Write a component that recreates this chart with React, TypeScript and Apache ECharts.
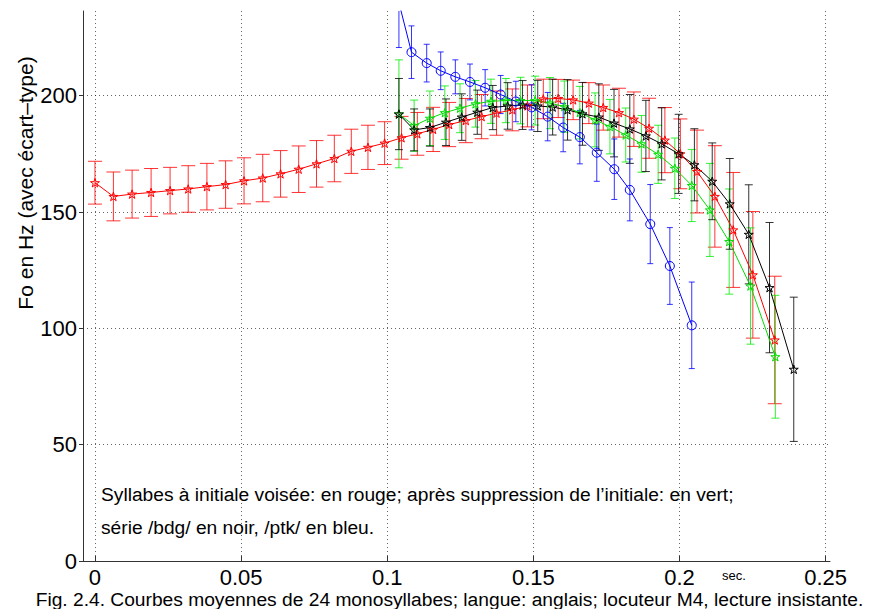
import React, { useEffect, useRef } from "react";
import * as echarts from "echarts";

// ---- axis ticks ----
const xTickValues = [0, 0.05, 0.1, 0.15, 0.2, 0.25];
const yTickValues = [0, 50, 100, 150, 200];

// ---- red: syllabes à initiale voisée ----
const redT = [
  0, 0.0063, 0.0127, 0.0192, 0.0257, 0.0319, 0.0383, 0.0447, 0.051, 0.0574, 0.0635, 0.0697,
  0.0758, 0.0819, 0.0877, 0.0934, 0.0991, 0.1049, 0.1103, 0.1157, 0.1212, 0.1269, 0.1323,
  0.1374, 0.1428, 0.148, 0.1534, 0.1585, 0.1636, 0.169, 0.1739, 0.1793, 0.1844, 0.1896,
  0.195, 0.2003, 0.206, 0.2121, 0.2184, 0.2251, 0.2326,
];
const redV = [
  162.6, 156.7, 157.7, 158.4, 159.2, 159.9, 160.9, 161.8, 163.4, 164.6, 166.4, 168.4, 170.7,
  173, 176.1, 177.8, 179.6, 181.9, 183.6, 185.5, 187.6, 189.3, 191.0, 192.5, 193.9, 195.6,
  198.6, 198.8, 198.2, 196.8, 194.9, 192.7, 189.9, 186.0, 180.9, 175.0, 167.4, 156.7, 142.3,
  123.0, 95.0,
];
const redSD = [
  9.2, 10.5, 10.3, 10.3, 10, 10, 10, 10.2, 9.9, 10.2, 10, 10, 10, 10, 9.5, 9.5, 9.2, 9.2, 9.2,
  9.5, 9.5, 9.5, 9.5, 9.5, 9, 9, 8.5, 8.2, 8.5, 8.8, 9.7, 10.5, 11.7, 12.9, 14, 15, 17.8, 21.8,
  24.7, 27.2, 27.4, 23.3,
];

// ---- green: après suppression de l'initiale ----
const greenT = [
  0.104, 0.1092, 0.1146, 0.1197, 0.1249, 0.1302, 0.1355, 0.1406, 0.1456, 0.1506, 0.1557,
  0.1606, 0.1659, 0.1711, 0.1762, 0.1816, 0.187, 0.1927, 0.1984, 0.2042, 0.2104, 0.217,
  0.2243, 0.2328,
];
const greenV = [
  192.2, 187.1, 190.3, 192.7, 194.6, 196.5, 197.6, 197.9, 197.9, 197.9, 196.8, 195.3, 192.7,
  189.6, 186.7, 183.1, 179.3, 174.8, 168.8, 161.4, 150.9, 137.3, 118.2, 87.8,
];
const greenSD = [
  23.2, 11, 11.7, 11.5, 10.5, 10, 9.5, 9.5, 10, 10.5, 11, 11, 11.3, 11.6, 11.7, 11.6, 12.2,
  12.5, 13, 15.5, 20, 22.6, 25, 26.4,
];

// ---- black: série /bdg/ ----
const blackT = [
  0.104, 0.1092, 0.1146, 0.1201, 0.1255, 0.1308, 0.1361, 0.1412, 0.1463, 0.1515, 0.1566,
  0.1617, 0.1668, 0.1724, 0.1776, 0.183, 0.1885, 0.1939, 0.1997, 0.2051, 0.2112, 0.2172,
  0.2237, 0.2308, 0.2391,
];
const blackV = [
  192.1, 185.3, 186.3, 188.6, 190.8, 192.9, 194.9, 195.6, 196.0, 195.6, 195.1, 193.9, 192.2,
  190.8, 188.2, 185.7, 182.7, 179.3, 175.0, 170.3, 163.2, 153.5, 140.4, 117.5, 82.4,
];
const blackSD = [
  15.3, 9, 8, 10, 10, 9.5, 9.5, 10, 10.5, 11, 12, 13, 13.5, 14.3, 14.5, 14.8, 15.3, 15.5, 17,
  15.5, 16.5, 19.5, 21.3, 28, 31,
];

// ---- blue: série /ptk/ ----
const blueT = [
  0.104, 0.1083, 0.1135, 0.1183, 0.1233, 0.1283, 0.1335, 0.1388, 0.144, 0.1494, 0.1549,
  0.1602, 0.1659, 0.1717, 0.1777, 0.183, 0.19, 0.1967, 0.2042,
];
const blueV = [
  240, 218.7, 214.0, 210.7, 208.1, 205.9, 203.4, 200.5, 197.5, 195.0, 191.0, 186.3, 182.2,
  175.5, 168.4, 159.5, 144.8, 126.8, 101.3,
];
const blueSD = [
  19.3, 11.3, 8.1, 8.1, 7.3, 7.7, 7.8, 8.2, 8.7, 9.7, 10.4, 10.4, 11.5, 12.3, 13, 13.3, 17,
  16.5, 18.6,
];

const yLabel = "Fo en Hz (avec écart–type)";
const note1 = "Syllabes à initiale voisée: en rouge; après suppression de l’initiale: en vert;";
const note2 = "série /bdg/ en noir, /ptk/ en bleu.";
const caption =
  "Fig. 2.4. Courbes moyennes de 24 monosyllabes; langue: anglais; locuteur M4, lecture insistante.";
const unitLabel = "sec.";

const FONT = "'Liberation Sans', Arial, Helvetica, sans-serif";
const STAR =
  "path://M0,-50 L11.2,-15.5 L47.6,-15.5 L18.2,5.9 L29.4,40.5 L0,19.1 L-29.4,40.5 L-18.2,5.9 L-47.6,-15.5 L-11.2,-15.5 Z";

function pts(t: number[], v: number[]) {
  return t.map((x, i) => [x, v[i]]);
}
function bars(t: number[], v: number[], sd: number[]) {
  return t.map((x, i) => [x, v[i] - sd[i], v[i] + sd[i]]);
}

function errSeries(name: string, t: number[], v: number[], sd: number[], color: string, capHalf: number) {
  return {
    name: name + "-err",
    type: "custom",
    silent: true,
    z: 2,
    data: bars(t, v, sd),
    encode: { x: 0, y: [1, 2] },
    renderItem: (params: any, api: any) => {
      const x = api.value(0);
      const lo = api.value(1);
      const hi = api.value(2);
      const pLo = api.coord([x, lo]);
      const pHi = api.coord([x, hi]);
      const cs = params.coordSys;
      const top = cs.y;
      const bottom = cs.y + cs.height;
      const yTop = Math.max(pHi[1], top);
      const yBot = Math.min(pLo[1], bottom);
      const style = { stroke: color, lineWidth: 1, opacity: 0.8 };
      const children: any[] = [
        { type: "line", shape: { x1: pLo[0], y1: yBot, x2: pLo[0], y2: yTop }, style },
      ];
      if (pHi[1] >= top)
        children.push({
          type: "line",
          shape: { x1: pHi[0] - capHalf, y1: pHi[1], x2: pHi[0] + capHalf, y2: pHi[1] },
          style,
        });
      if (pLo[1] <= bottom)
        children.push({
          type: "line",
          shape: { x1: pLo[0] - capHalf, y1: pLo[1], x2: pLo[0] + capHalf, y2: pLo[1] },
          style,
        });
      return { type: "group", children };
    },
  };
}

function lineSeries(name: string, t: number[], v: number[], color: string, symbol: string, size: number) {
  return {
    name,
    type: "line",
    silent: true,
    z: 3,
    clip: true,
    data: pts(t, v),
    symbol,
    symbolSize: size,
    symbolKeepAspect: true,
    showSymbol: true,
    showAllSymbol: true,
    lineStyle: { color, width: 1 },
    itemStyle: { color: "rgba(255,255,255,0)", borderColor: color, borderWidth: 1 },
  };
}

export default function App() {
  const ref = useRef<HTMLDivElement>(null);
  useEffect(() => {
    const chart = echarts.init(ref.current!, null, { renderer: "svg" });
    const grid = { left: 83, right: 39, top: 11, bottom: 48 };
    const splitStyle = { color: "#000", type: [1, 3], width: 1, opacity: 0.6 };
    const option: any = {
      animation: false,
      backgroundColor: "#fff",
      grid,
      xAxis: {
        type: "value",
        min: -0.0041,
        max: 0.2515,
        axisLine: { show: true, onZero: false, lineStyle: { color: "#333", width: 1 } },
        axisTick: { show: true, inside: true, length: 5, customValues: xTickValues, lineStyle: { color: "#333" } },
        axisLabel: {
          customValues: xTickValues,
          fontFamily: FONT,
          fontSize: 22,
          lineHeight: 17,
          color: "#000",
          margin: 8,
          formatter: (v: number) => String(Math.round(v * 100) / 100),
        },
        splitLine: { show: true, lineStyle: splitStyle },
      },
      yAxis: {
        type: "value",
        min: 0,
        max: 236.4,
        axisLine: { show: true, onZero: false, lineStyle: { color: "#333", width: 1 } },
        axisTick: { show: true, inside: false, length: 4, customValues: yTickValues, lineStyle: { color: "#333" } },
        axisLabel: {
          customValues: yTickValues,
          fontFamily: FONT,
          fontSize: 22,
          color: "#000",
          margin: 6,
        },
        splitLine: { show: true, lineStyle: splitStyle },
      },
      series: [
        errSeries("red", redT, redV, redSD, "#ff0000", 7),
        lineSeries("red", redT, redV, "#ff0000", STAR, 9),
        errSeries("green", greenT, greenV, greenSD, "#00ee00", 4),
        lineSeries("green", greenT, greenV, "#00dd00", STAR, 9),
        errSeries("black", blackT, blackV, blackSD, "#000000", 4),
        lineSeries("black", blackT, blackV, "#000000", STAR, 9),
        errSeries("blue", blueT, blueV, blueSD, "#0000ff", 3),
        lineSeries("blue", blueT, blueV, "#0000ff", "circle", 9),
      ],
      graphic: [
        {
          type: "text",
          x: 25,
          y: 183,
          rotation: Math.PI / 2,
          style: {
            text: yLabel,
            font: `21px ${FONT}`,
            fill: "#000",
            textAlign: "center",
            textVerticalAlign: "middle",
          },
        },
        {
          type: "text",
          x: 101,
          y: 494,
          style: { text: note1, font: `19.2px ${FONT}`, fill: "#000", textAlign: "left", textVerticalAlign: "middle" },
        },
        {
          type: "text",
          x: 101,
          y: 527,
          style: { text: note2, font: `19.2px ${FONT}`, fill: "#000", textAlign: "left", textVerticalAlign: "middle" },
        },
        {
          type: "text",
          x: 734,
          y: 575,
          style: { text: unitLabel, font: `13px ${FONT}`, fill: "#000", textAlign: "center", textVerticalAlign: "middle" },
        },
        {
          type: "text",
          x: 449.5,
          y: 599,
          style: {
            text: caption,
            font: `19.2px ${FONT}`,
            lineHeight: 16,
            fill: "#000",
            textAlign: "center",
            textVerticalAlign: "middle",
          },
        },
      ],
    };
    chart.setOption(option);
    return () => chart.dispose();
  }, []);
  return (
    <div
      ref={ref}
      style={{ position: "absolute", left: 0, top: 0, width: 869, height: 609, background: "#fff" }}
    />
  );
}
